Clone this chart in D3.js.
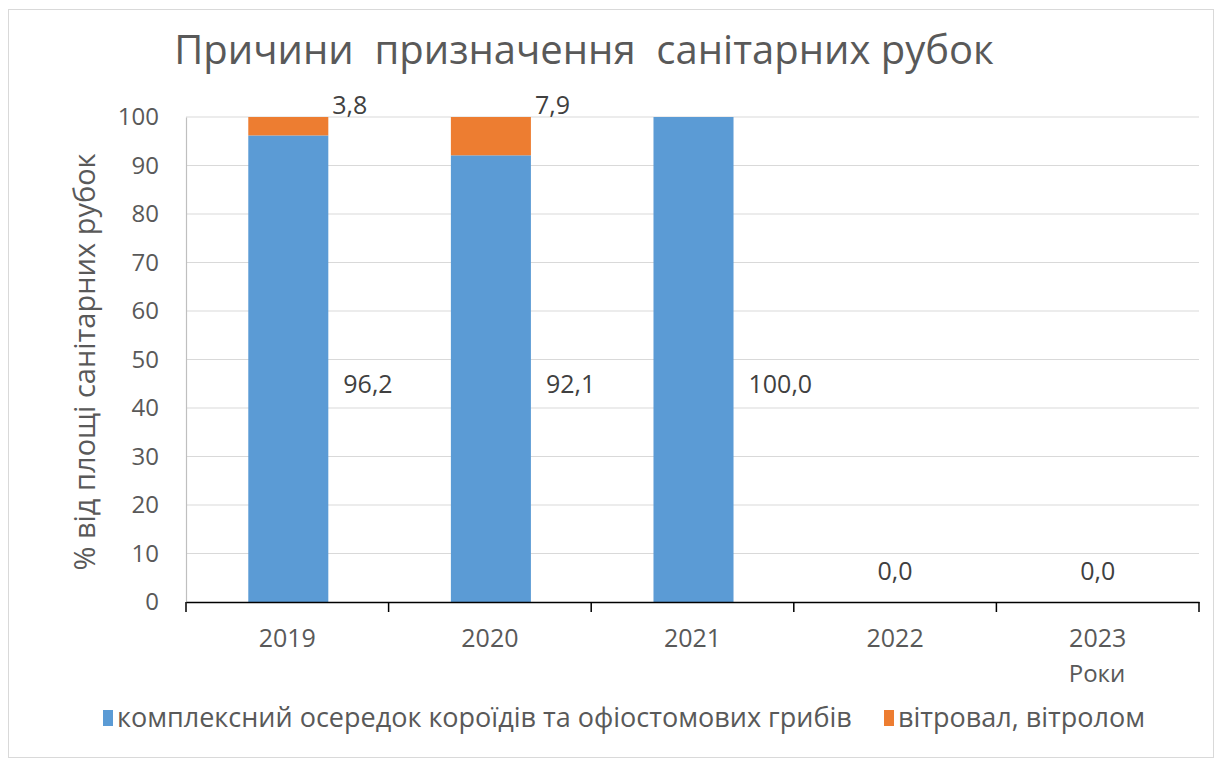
<!DOCTYPE html>
<html><head><meta charset="utf-8">
<script src="https://cdn.jsdelivr.net/npm/d3@7"></script>
<style>
html,body{margin:0;padding:0;background:#fff;}
svg text{font-family:"Open Sans","Noto Sans",sans-serif;white-space:pre;}
</style></head>
<body>
<svg id="c" width="1222" height="763"></svg>
<script>
const years = ["2019","2020","2021","2022","2023"];
const beetles = [96.2, 92.1, 100.0, 0.0, 0.0];
const windfall = [3.8, 7.9, 0.0, 0.0, 0.0];
const yTicks = [0,10,20,30,40,50,60,70,80,90,100];
const seriesNames = ["комплексний осередок короїдів та офіостомових грибів","вітровал, вітролом"];
const colors = ["#5B9BD5","#ED7D31"];
const titleText = "Причини  призначення  санітарних рубок";
const yTitle = "% від площі санітарних рубок";
const xTitle = "Роки";

const svg = d3.select("#c");
svg.append("rect").attr("x",8.5).attr("y",9.5).attr("width",1205).attr("height",748)
  .attr("fill","#fff").attr("stroke","#d9d9d9");

const x = d3.scaleBand().domain(years).range([186,1199]).padding(0);
const y = d3.scaleLinear().domain([0,100]).range([602,117]);
const barW = x.bandwidth()*0.395;

// gridlines
svg.append("g").selectAll("line").data(yTicks.filter(d=>d>0)).join("line")
  .attr("x1",186).attr("x2",1199).attr("y1",d=>y(d)).attr("y2",d=>y(d))
  .attr("stroke","#d9d9d9").attr("stroke-width",1.2);

// y axis
const ya = svg.append("g").attr("transform","translate(186,0)")
  .call(d3.axisLeft(y).tickValues(yTicks).tickSize(0).tickPadding(27));
ya.select(".domain").attr("stroke","#bfbfbf").attr("stroke-width",1.2);
ya.selectAll("text").attr("font-size",24).attr("fill","#595959")
  .style("font-family",'"Open Sans",sans-serif');

// stacked bars
const stack = years.map((yr,i)=>({yr, a:beetles[i], b:windfall[i]}));
svg.append("g").selectAll("rect").data(stack).join("rect")
  .attr("x",d=>x(d.yr)+x.bandwidth()/2-barW/2+1).attr("width",barW)
  .attr("y",d=>y(d.a)).attr("height",d=>y(0)-y(d.a)).attr("fill",colors[0]);
svg.append("g").selectAll("rect").data(stack).join("rect")
  .attr("x",d=>x(d.yr)+x.bandwidth()/2-barW/2+1).attr("width",barW)
  .attr("y",d=>y(d.a+d.b)).attr("height",d=>y(d.a)-y(d.a+d.b)).attr("fill",colors[1]);

// x axis
const xa = svg.append("g").attr("transform","translate(0,602)")
  .call(d3.axisBottom(x).tickSize(0).tickPadding(27));
xa.select(".domain").attr("stroke","#000").attr("stroke-width",1.5);
xa.selectAll("text").attr("font-size",25).attr("fill","#595959")
  .style("font-family",'"Open Sans",sans-serif');
xa.selectAll(".tick line").remove();
svg.append("g").selectAll("line").data(years.map(d=>x(d)).concat([1199])).join("line")
  .attr("x1",d=>d).attr("x2",d=>d).attr("y1",602).attr("y2",612)
  .attr("stroke","#000").attr("stroke-width",1.5);

const fmt = v => v.toFixed(1).replace(".",",");
// data labels main series
svg.append("g").selectAll("text").data(stack).join("text")
  .attr("x",d=> d.a>0 ? x(d.yr)+x.bandwidth()/2+barW/2+16 : x(d.yr)+x.bandwidth()/2)
  .attr("y",d=> d.a>0 ? y(45)+9 : y(6.3)+9)
  .attr("text-anchor",d=> d.a>0 ? "start":"middle")
  .attr("font-size",25).attr("fill","#404040")
  .text(d=>fmt(d.a));
// data labels windfall
svg.append("g").selectAll("text").data(stack.filter(d=>d.b>0)).join("text")
  .attr("x",d=>x(d.yr)+x.bandwidth()/2+barW/2+5)
  .attr("y",y(100)-3)
  .attr("font-size",25).attr("fill","#404040")
  .text(d=>fmt(d.b));

// title
svg.append("text").attr("x",584).attr("y",64).attr("text-anchor","middle")
  .attr("font-size",40).attr("fill","#595959").text(titleText);

// y title
svg.append("text").attr("transform","translate(95,362) rotate(-90)")
  .attr("text-anchor","middle").attr("font-size",29).attr("fill","#595959").text(yTitle);
// x title
svg.append("text").attr("x",1097).attr("y",682).attr("text-anchor","middle")
  .attr("font-size",24).attr("fill","#595959").text(xTitle);

// legend
const lg = svg.append("g");
const lx = [103, 884];
seriesNames.forEach((n,i)=>{
  lg.append("rect").attr("x",lx[i]).attr("y",710).attr("width",10).attr("height",16).attr("fill",colors[i]);
  lg.append("text").attr("x",lx[i]+14).attr("y",727).attr("font-size",27).attr("fill","#595959").text(n);
});
</script>
</body></html>
